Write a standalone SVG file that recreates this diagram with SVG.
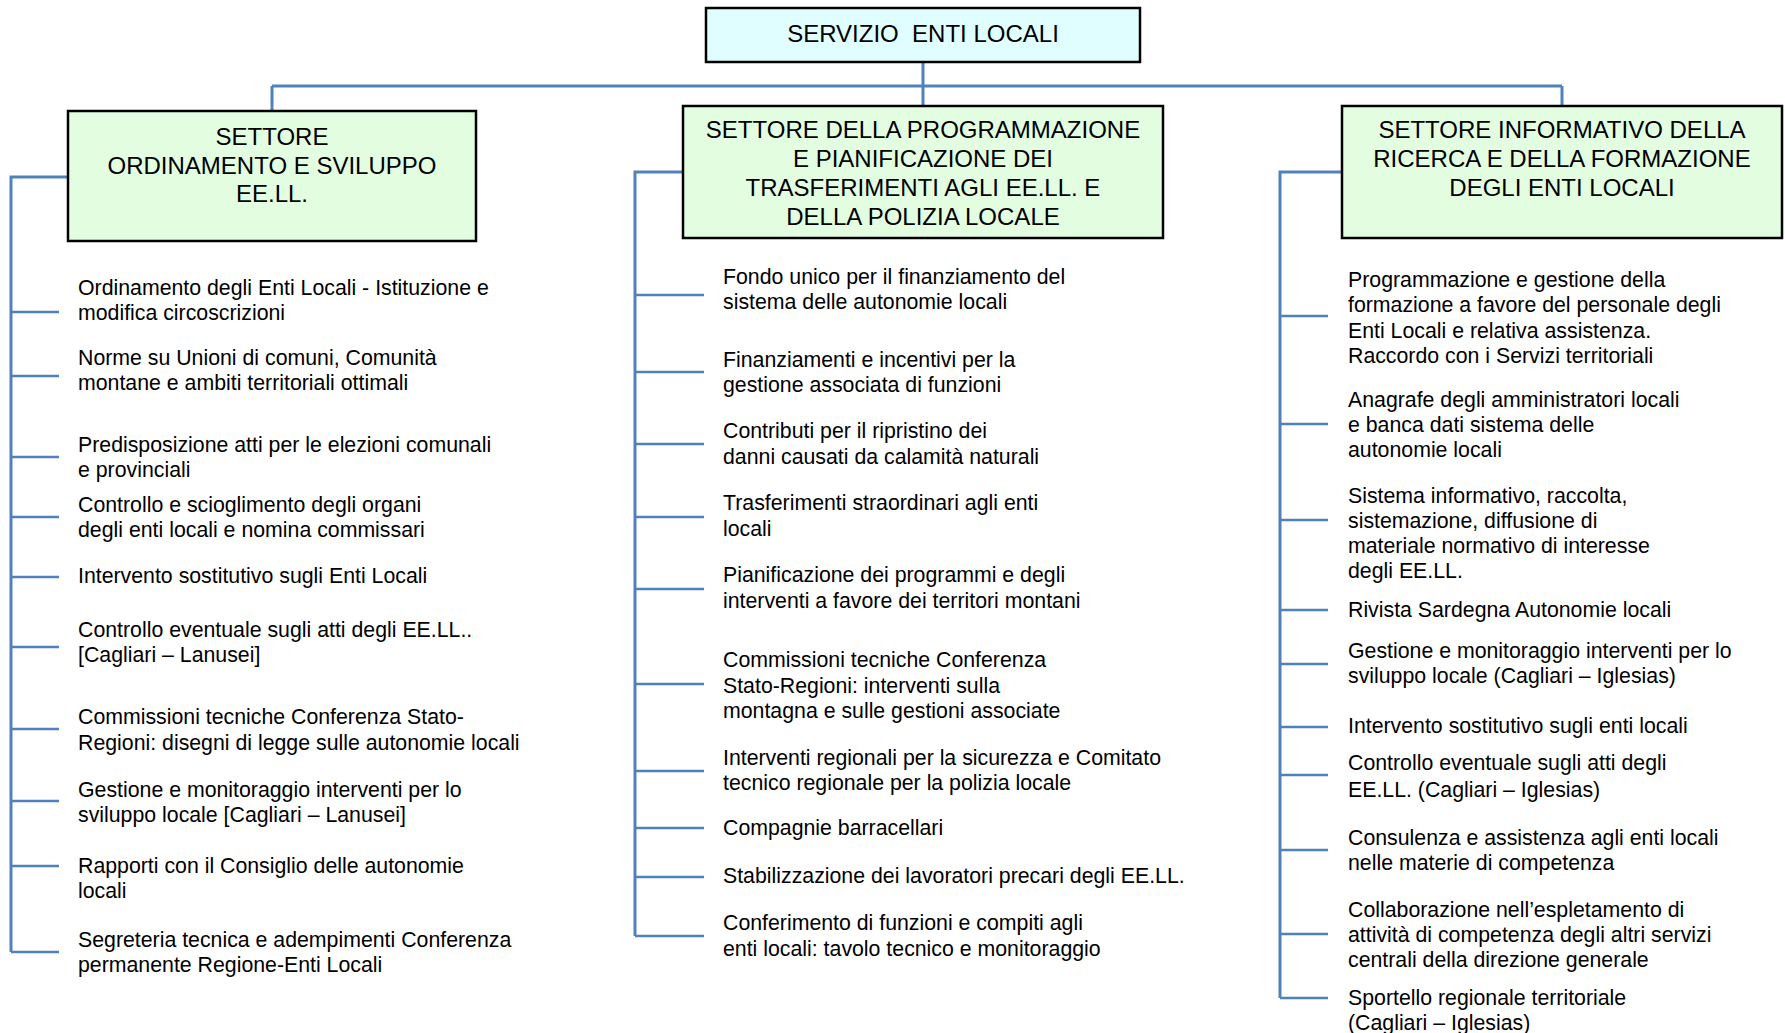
<svg xmlns="http://www.w3.org/2000/svg" width="1785" height="1033" viewBox="0 0 1785 1033">
<style>
text{font-family:"Liberation Sans",Arial,sans-serif;fill:#000}
.t{font-size:24px;text-anchor:middle}
.i{font-size:21.3px}
.top{fill:#E0FEFF;stroke:#000;stroke-width:2.5}
.sec{fill:#E3FDE1;stroke:#000;stroke-width:2.5}
.c{stroke:#4F81BD;stroke-width:3;fill:none}
.b{stroke:#4F81BD;stroke-width:2.5;fill:none}
</style>
<rect width="1785" height="1033" fill="#fff"/>
<g id="connectors">
<path class="c" d="M923 62V106M272 86H1562M272 86V111M1562 86V106"/>
<path class="c" d="M67 177H11V952"/>
<path class="b" d="M11 312H59M11 376H59M11 457H59M11 517H59M11 577H59M11 647H59M11 729H59M11 801H59M11 866H59M11 952H59"/>
<path class="c" d="M683 172H635V936"/>
<path class="b" d="M635 295H704M635 372H704M635 444H704M635 517H704M635 589H704M635 684H704M635 771H704M635 828H704M635 877H704M635 936H704"/>
<path class="c" d="M1342 172H1280V998"/>
<path class="b" d="M1280 316H1328M1280 424H1328M1280 520H1328M1280 610H1328M1280 664H1328M1280 727H1328M1280 775H1328M1280 850H1328M1280 934H1328M1280 998H1328"/>
</g>
<g id="servizio">
<rect class="top" x="706" y="8" width="434" height="54"/>
<text class="t" x="923" y="42" xml:space="preserve">SERVIZIO  ENTI LOCALI</text>
</g>
<g id="settore-ordinamento">
<rect class="sec" x="68" y="111" width="408" height="130"/>
<text class="t" x="272" y="145">SETTORE</text>
<text class="t" x="272" y="174">ORDINAMENTO E SVILUPPO</text>
<text class="t" x="272" y="202">EE.LL.</text>
</g>
<g id="settore-programmazione">
<rect class="sec" x="683" y="106" width="480" height="132"/>
<text class="t" x="923" y="138">SETTORE DELLA PROGRAMMAZIONE</text>
<text class="t" x="923" y="167">E PIANIFICAZIONE DEI</text>
<text class="t" x="923" y="196">TRASFERIMENTI AGLI EE.LL. E</text>
<text class="t" x="923" y="225">DELLA POLIZIA LOCALE</text>
</g>
<g id="settore-informativo">
<rect class="sec" x="1342" y="106" width="440" height="132"/>
<text class="t" x="1562" y="138">SETTORE INFORMATIVO DELLA</text>
<text class="t" x="1562" y="167">RICERCA E DELLA FORMAZIONE</text>
<text class="t" x="1562" y="196">DEGLI ENTI LOCALI</text>
</g>
<g id="left-items">
<text class="i" x="78" y="295">Ordinamento degli Enti Locali - Istituzione e</text>
<text class="i" x="78" y="320">modifica circoscrizioni</text>
<text class="i" x="78" y="365">Norme su Unioni di comuni, Comunità</text>
<text class="i" x="78" y="390">montane e ambiti territoriali ottimali</text>
<text class="i" x="78" y="452">Predisposizione atti per le elezioni comunali</text>
<text class="i" x="78" y="477">e provinciali</text>
<text class="i" x="78" y="512">Controllo e scioglimento degli organi</text>
<text class="i" x="78" y="537">degli enti locali e nomina commissari</text>
<text class="i" x="78" y="583">Intervento sostitutivo sugli Enti Locali</text>
<text class="i" x="78" y="637">Controllo eventuale sugli atti degli EE.LL..</text>
<text class="i" x="78" y="662">[Cagliari – Lanusei]</text>
<text class="i" x="78" y="724">Commissioni tecniche Conferenza Stato-</text>
<text class="i" x="78" y="750">Regioni: disegni di legge sulle autonomie locali</text>
<text class="i" x="78" y="797">Gestione e monitoraggio interventi per lo</text>
<text class="i" x="78" y="822">sviluppo locale [Cagliari – Lanusei]</text>
<text class="i" x="78" y="873">Rapporti con il Consiglio delle autonomie</text>
<text class="i" x="78" y="898">locali</text>
<text class="i" x="78" y="947">Segreteria tecnica e adempimenti Conferenza</text>
<text class="i" x="78" y="972">permanente Regione-Enti Locali</text>
</g>
<g id="middle-items">
<text class="i" x="723" y="284">Fondo unico per il finanziamento del</text>
<text class="i" x="723" y="309">sistema delle autonomie locali</text>
<text class="i" x="723" y="367">Finanziamenti e incentivi per la</text>
<text class="i" x="723" y="392">gestione associata di funzioni</text>
<text class="i" x="723" y="438">Contributi per il ripristino dei</text>
<text class="i" x="723" y="464">danni causati da calamità naturali</text>
<text class="i" x="723" y="510">Trasferimenti straordinari agli enti</text>
<text class="i" x="723" y="536">locali</text>
<text class="i" x="723" y="582">Pianificazione dei programmi e degli</text>
<text class="i" x="723" y="608">interventi a favore dei territori montani</text>
<text class="i" x="723" y="667">Commissioni tecniche Conferenza</text>
<text class="i" x="723" y="693">Stato-Regioni: interventi sulla</text>
<text class="i" x="723" y="718">montagna e sulle gestioni associate</text>
<text class="i" x="723" y="765">Interventi regionali per la sicurezza e Comitato</text>
<text class="i" x="723" y="790">tecnico regionale per la polizia locale</text>
<text class="i" x="723" y="835">Compagnie barracellari</text>
<text class="i" x="723" y="883">Stabilizzazione dei lavoratori precari degli EE.LL.</text>
<text class="i" x="723" y="930">Conferimento di funzioni e compiti agli</text>
<text class="i" x="723" y="956">enti locali: tavolo tecnico e monitoraggio</text>
</g>
<g id="right-items">
<text class="i" x="1348" y="287">Programmazione e gestione della</text>
<text class="i" x="1348" y="312">formazione a favore del personale degli</text>
<text class="i" x="1348" y="338">Enti Locali e relativa assistenza.</text>
<text class="i" x="1348" y="363">Raccordo con i Servizi territoriali</text>
<text class="i" x="1348" y="407">Anagrafe degli amministratori locali</text>
<text class="i" x="1348" y="432">e banca dati sistema delle</text>
<text class="i" x="1348" y="457">autonomie locali</text>
<text class="i" x="1348" y="503">Sistema informativo, raccolta,</text>
<text class="i" x="1348" y="528">sistemazione, diffusione di</text>
<text class="i" x="1348" y="553">materiale normativo di interesse</text>
<text class="i" x="1348" y="578">degli EE.LL.</text>
<text class="i" x="1348" y="617">Rivista Sardegna Autonomie locali</text>
<text class="i" x="1348" y="658">Gestione e monitoraggio interventi per lo</text>
<text class="i" x="1348" y="683">sviluppo locale (Cagliari – Iglesias)</text>
<text class="i" x="1348" y="733">Intervento sostitutivo sugli enti locali</text>
<text class="i" x="1348" y="770">Controllo eventuale sugli atti degli</text>
<text class="i" x="1348" y="797">EE.LL. (Cagliari – Iglesias)</text>
<text class="i" x="1348" y="845">Consulenza e assistenza agli enti locali</text>
<text class="i" x="1348" y="870">nelle materie di competenza</text>
<text class="i" x="1348" y="917">Collaborazione nell’espletamento di</text>
<text class="i" x="1348" y="942">attività di competenza degli altri servizi</text>
<text class="i" x="1348" y="967">centrali della direzione generale</text>
<text class="i" x="1348" y="1005">Sportello regionale territoriale</text>
<text class="i" x="1348" y="1030">(Cagliari – Iglesias)</text>
</g>
</svg>
